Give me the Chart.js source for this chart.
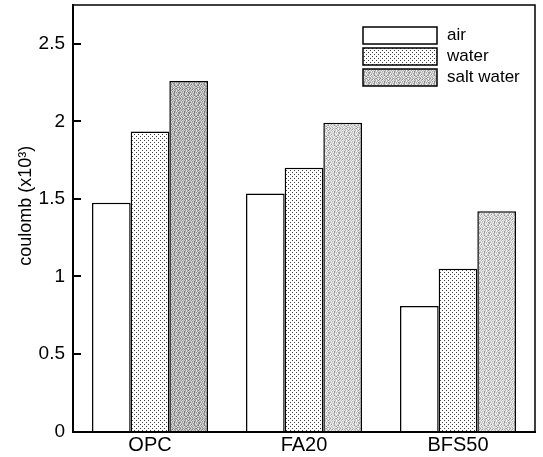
<!DOCTYPE html>
<html>
<head>
<meta charset="utf-8">
<script src="https://cdn.jsdelivr.net/npm/chart.js@4/dist/chart.umd.min.js"></script>
<style>
  html, body { margin: 0; padding: 0; background: #fff; }
  #wrap { width: 543px; height: 457px; }
</style>
</head>
<body>
<div id="wrap"><canvas id="c" width="543" height="457"></canvas></div>
<script>
// ---- data ----
const categories = ['OPC', 'FA20', 'BFS50'];
const seriesNames = ['air', 'water', 'salt water'];
const airValues = [1.475, 1.535, 0.81];
const waterValues = [1.935, 1.70, 1.05];
const saltWaterValues = [2.26, 1.99, 1.42];
const yTickValues = [0, 0.5, 1, 1.5, 2, 2.5];
const yTickLabels = ['0', '0.5', '1', '1.5', '2', '2.5'];

// ---- fill patterns (decorative texture only) ----
function makePattern(size, painter) {
  const cv = document.createElement('canvas');
  cv.width = size; cv.height = size;
  const cx = cv.getContext('2d');
  painter(cx);
  return cx.createPattern(cv, 'repeat');
}
const ctx = document.getElementById('c').getContext('2d');
const waterPattern = makePattern(4, (c) => {
  c.fillStyle = '#ffffff'; c.fillRect(0, 0, 4, 4);
  c.fillStyle = '#3a3a3a';
  c.fillRect(0, 0, 1, 1); c.fillRect(2, 2, 1, 1);
});
const saltMap = [
  '3142314203',
  '2413024142',
  '1324031401',
  '4231142320',
  '3042134213',
  '1423023104',
  '4132410432',
  '2314234021',
  '0421310342',
  '3204123140'
];
function saltPat(shades) {
  return makePattern(10, (c) => {
    for (let y = 0; y < 10; y++) for (let x = 0; x < 10; x++) {
      c.fillStyle = shades[+saltMap[y][x]];
      c.fillRect(x, y, 1, 1);
    }
  });
}
const saltDark = saltPat(['#7a7a7a', '#939393', '#adadad', '#c8c8c8', '#e0e0e0']);
const saltMid = saltPat(['#8e8e8e', '#a8a8a8', '#c0c0c0', '#d8d8d8', '#eeeeee']);
const saltLight = saltPat(['#9a9a9a', '#b8b8b8', '#cfcfcf', '#e2e2e2', '#f4f4f4']);
const FONT = '"Liberation Sans", Arial, sans-serif';

// ---- plugins ----
const legendFills = ['#ffffff', waterPattern, saltMid];
const framePlugin = {
  id: 'frame',
  afterDraw(chart) {
    const { ctx, chartArea: a, scales } = chart;
    ctx.save();
    ctx.strokeStyle = '#000';
    ctx.lineWidth = 1.5;
    ctx.beginPath();
    ctx.moveTo(a.left, a.top); ctx.lineTo(a.right, a.top); ctx.lineTo(a.right, a.bottom);
    ctx.stroke();
    // inward ticks on y axis
    ctx.lineWidth = 2;
    yTickValues.forEach(v => {
      const y = Math.round(scales.y.getPixelForValue(v));
      ctx.beginPath(); ctx.moveTo(a.left, y); ctx.lineTo(a.left + 8, y); ctx.stroke();
    });
    // legend
    const bx = a.right - 172, bw = 74, bh = 17;
    const rows = [a.top + 22, a.top + 43, a.top + 64];
    ctx.font = '17px ' + FONT;
    ctx.textBaseline = 'middle';
    chart.data.datasets.forEach((ds, i) => {
      ctx.fillStyle = legendFills[i];
      ctx.fillRect(bx, rows[i], bw, bh);
      ctx.lineWidth = 1.5;
      ctx.strokeStyle = '#000';
      ctx.strokeRect(bx, rows[i], bw, bh);
      ctx.fillStyle = '#000';
      ctx.fillText(ds.label, bx + bw + 10, rows[i] + bh / 2);
    });
    ctx.restore();
  }
};

const fills = ['#ffffff', waterPattern, [saltDark, saltLight, saltLight]];

new Chart(ctx, {
  type: 'bar',
  data: {
    labels: categories,
    datasets: [airValues, waterValues, saltWaterValues].map((vals, i) => ({
      label: seriesNames[i],
      data: vals,
      backgroundColor: fills[i],
      borderColor: '#000',
      borderWidth: 1.5,
      borderSkipped: 'bottom',
      categoryPercentage: 0.753,
      barPercentage: 1.0
    }))
  },
  options: {
    responsive: false,
    animation: false,
    devicePixelRatio: 1,
    layout: { padding: { left: 0, top: 5, right: 8, bottom: 0 } },
    plugins: { legend: { display: false }, tooltip: { enabled: false } },
    scales: {
      x: {
        grid: { display: false, drawTicks: false },
        border: { display: true, color: '#000', width: 2 },
        ticks: { color: '#000', padding: 2, font: { family: FONT, size: 20 } },
        afterFit(s) { s.height = 25.5; s.paddingLeft = 0; s.paddingRight = 0; }
      },
      y: {
        min: 0, max: 2.75,
        grid: { drawOnChartArea: false, drawTicks: false },
        border: { display: true, color: '#000', width: 2 },
        afterBuildTicks(s) { s.ticks = yTickValues.map(v => ({ value: v })); },
        ticks: {
          color: '#000', padding: 8,
          font: { family: FONT, size: 19 },
          callback: (v) => yTickLabels[yTickValues.indexOf(v)] ?? ''
        },
        title: {
          display: true,
          text: '     coulomb (x10³)',
          color: '#000',
          padding: { top: 15, bottom: 0 },
          font: { family: FONT, size: 18 }
        },
        afterFit(s) { s.width = 73; s.paddingTop = 0; s.paddingBottom = 0; }
      }
    }
  },
  plugins: [framePlugin]
});
</script>
</body>
</html>
